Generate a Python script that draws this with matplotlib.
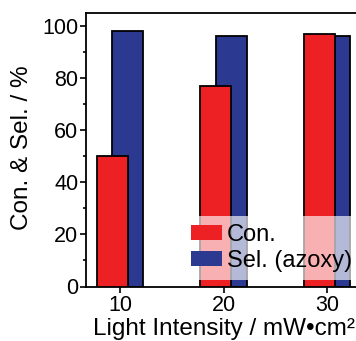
import numpy as np
import matplotlib
matplotlib.use("Agg")
import matplotlib.pyplot as plt
from matplotlib.ticker import MultipleLocator
from matplotlib.patches import Patch

plt.rcParams['font.family'] = ['Liberation Sans', 'DejaVu Sans']

intensity = [10, 20, 30]
conversion = [50, 77, 97]
selectivity = [98, 96, 96]

red = '#ED2024'
blue = '#2B3990'

W, H = 356, 341
fig = plt.figure(figsize=(W / 100, H / 100), dpi=100)
ax = fig.add_axes([86 / W, (H - 286.5) / H, (389 - 86) / W, (286.5 - 13) / H])

x = np.array(intensity, dtype=float)
bw = 3.0
ax.bar(x + 0.75, selectivity, width=bw, color=blue, edgecolor='black',
       linewidth=1.3, zorder=2)
ax.bar(x - 0.75, conversion, width=bw, color=red, edgecolor='black',
       linewidth=1.3, zorder=3)

ax.set_xlim(6.7, 36)
ax.set_ylim(0, 105)
ax.set_xticks(intensity)
ax.yaxis.set_major_locator(MultipleLocator(20))
ax.yaxis.set_minor_locator(MultipleLocator(10))
ax.tick_params(axis='both', which='major', labelsize=15.5, length=4, width=1.2)
ax.tick_params(axis='y', which='major', pad=1.5)
ax.tick_params(axis='x', which='major', pad=2)
ax.tick_params(axis='y', which='minor', length=2.5, width=1.2)
for s in ax.spines.values():
    s.set_linewidth(1.3)

fig.text(22 / W, (H - 147.5) / H, 'Con. & Sel. / %', fontsize=17.5,
         rotation=90, ha='center', va='center')
# bottom of the label sits right at the edge, keep descenders inside
fig.text(224 / W, (H - 335) / H, 'Light Intensity / mW•cm²', fontsize=17.5,
         ha='center', va='baseline')

handles = [Patch(facecolor=red, edgecolor='none'),
           Patch(facecolor=blue, edgecolor='none')]
leg = ax.legend(handles, ['Con.', 'Sel. (azoxy)'], loc='lower left',
                bbox_to_anchor=(183 / W, (H - 280) / H),
                bbox_transform=fig.transFigure, fontsize=17,
                frameon=True, fancybox=False, framealpha=0.65,
                handlelength=1.3, handleheight=0.6, handletextpad=0.2,
                labelspacing=0.15, borderpad=0.35, borderaxespad=0)
leg.get_frame().set_edgecolor('none')
leg.set_zorder(5)

fig.savefig('out.png', dpi=100)
